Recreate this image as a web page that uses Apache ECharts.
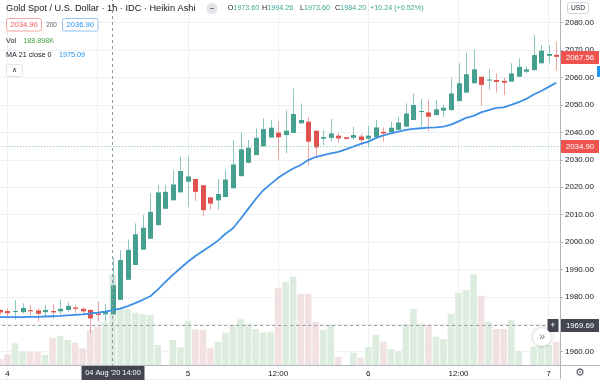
<!DOCTYPE html>
<html><head><meta charset="utf-8">
<script src="https://cdn.jsdelivr.net/npm/echarts/dist/echarts.min.js"></script>
<style>html,body{margin:0;padding:0;background:#fff}#c{width:600px;height:380px}</style>
</head><body><div id="c"></div>
<script>
const categories = [
 'Aug 3 23:00',
 'Aug 4 00:00','Aug 4 01:00','Aug 4 02:00','Aug 4 03:00','Aug 4 04:00','Aug 4 05:00','Aug 4 06:00','Aug 4 07:00',
 'Aug 4 08:00','Aug 4 09:00','Aug 4 10:00','Aug 4 11:00','Aug 4 12:00','Aug 4 13:00','Aug 4 14:00','Aug 4 15:00',
 'Aug 4 16:00','Aug 4 17:00','Aug 4 18:00','Aug 4 19:00','Aug 4 20:00','Aug 4 21:00','Aug 4 22:00','Aug 4 23:00',
 'Aug 5 00:00','Aug 5 01:00','Aug 5 02:00','Aug 5 03:00','Aug 5 04:00','Aug 5 05:00','Aug 5 06:00','Aug 5 07:00',
 'Aug 5 08:00','Aug 5 09:00','Aug 5 10:00','Aug 5 11:00','Aug 5 12:00','Aug 5 13:00','Aug 5 14:00','Aug 5 15:00',
 'Aug 5 16:00','Aug 5 17:00','Aug 5 18:00','Aug 5 19:00','Aug 5 20:00','Aug 5 21:00','Aug 5 22:00','Aug 5 23:00',
 'Aug 6 00:00','Aug 6 01:00','Aug 6 02:00','Aug 6 03:00','Aug 6 04:00','Aug 6 05:00','Aug 6 06:00','Aug 6 07:00',
 'Aug 6 08:00','Aug 6 09:00','Aug 6 10:00','Aug 6 11:00','Aug 6 12:00','Aug 6 13:00','Aug 6 14:00','Aug 6 15:00',
 'Aug 6 16:00','Aug 6 17:00','Aug 6 18:00','Aug 6 19:00','Aug 6 20:00','Aug 6 21:00','Aug 6 22:00','Aug 6 23:00',
 'Aug 7 00:00','Aug 7 01:00'
];
const openP = [1975.2,1974.8,1974.6,1974.4,1975.1,1975.0,1974.4,1974.8,1974.7,1975.2,1976.1,1975.6,1975.2,1973.9,1973.6,
 1973.6,1978.9,1986.2,1991.6,1997.2,2001.2,2006.1,2012.1,2015.2,2018.1,2022.0,2023.0,2020.7,2016.3,2015.2,2016.4,2019.6,
 2024.0,2028.9,2031.7,2034.9,2038.1,2039.9,2039.0,2039.8,2043.3,2043.9,2040.6,2037.7,2038.0,2038.8,2038.2,2038.0,2038.5,
 2037.7,2038.3,2040.2,2040.0,2040.9,2042.1,2044.5,2047.4,2047.3,2046.3,2047.9,2048.1,2051.4,2054.5,2057.9,2060.3,2058.9,
 2059.1,2058.8,2058.5,2060.3,2062.1,2062.7,2065.2,2067.9,2068.3];
const closeP = [1974.3,1974.0,1974.8,1975.9,1974.7,1973.8,1975.2,1974.3,1975.6,1976.7,1975.6,1974.7,1972.1,1973.4,1974.5,
 1984.2,1993.4,1997.1,2002.8,2005.2,2011.0,2018.1,2018.3,2021.0,2025.9,2023.9,2018.3,2011.6,2014.0,2017.5,2022.8,2028.3,
 2033.8,2034.4,2038.0,2041.2,2041.7,2038.2,2040.6,2046.7,2044.5,2036.6,2034.5,2038.3,2039.6,2037.8,2037.6,2039.0,2037.2,
 2038.8,2041.8,2039.6,2041.7,2043.6,2046.9,2050.0,2047.8,2045.7,2048.4,2049.0,2054.2,2057.9,2061.2,2063.0,2057.3,2059.3,
 2058.4,2058.1,2061.5,2063.9,2063.0,2068.2,2069.8,2068.6,2067.56];
const lowP = [1973.5,1972.7,1971.7,1973.9,1973.3,1970.9,1973.0,1972.1,1973.7,1974.3,1973.9,1973.6,1966.6,1970.9,1970.9,
 1973.6,1978.9,1986.2,1991.6,1997.2,2001.2,2006.1,2012.1,2015.2,2018.1,2012.9,2014.9,2009.5,2011.6,2011.6,2016.4,2019.6,
 2024.0,2028.7,2031.7,2034.9,2038.1,2030.1,2032.3,2039.8,2043.3,2028.2,2030.5,2035.4,2036.6,2036.2,2037.4,2037.2,2035.4,
 2034.5,2038.3,2036.6,2040.0,2040.9,2042.1,2044.5,2042.1,2040.5,2046.3,2045.7,2048.1,2051.4,2054.5,2057.9,2049.6,2055.5,
 2054.5,2053.6,2058.5,2060.3,2061.5,2062.7,2065.2,2065.2,2062.5];
const highP = [1975.4,1975.7,1978.8,1977.6,1977.0,1975.9,1977.0,1977.3,1979.0,1978.1,1976.9,1976.4,1975.5,1978.2,1977.3,
 1994.26,1997.1,2000.9,2006.8,2009.8,2017.7,2020.8,2020.8,2026.2,2031.1,2031.2,2023.0,2020.7,2016.3,2023.0,2026.2,2037.2,
 2040.0,2037.2,2041.4,2045.1,2044.5,2043.9,2048.1,2056.0,2050.6,2045.5,2040.6,2040.8,2044.9,2039.9,2038.4,2042.1,2039.4,
 2042.3,2044.5,2041.8,2043.9,2045.7,2050.6,2054.2,2052.2,2052.0,2051.8,2050.0,2059.7,2065.2,2069.1,2070.3,2060.3,2063.0,
 2061.5,2060.0,2065.2,2067.0,2064.0,2075.5,2071.9,2071.9,2073.1];
const volumeK = [12.6,22.5,45.6,27.9,27.9,26.7,21,57.3,60.9,52.5,46.8,35.1,73.5,80.4,89.7,188.9,119.1,117.0,109.8,106.5,
 105,42,0,52.5,37.2,93,75,74.1,36.3,48.9,67.8,84,96,86.7,75.6,68.7,69.9,162.3,174.9,185.4,149.1,149.1,90.9,74.1,84,17.4,
 0,25.8,15.3,37.8,63,48.9,33.6,27.9,86.7,117.6,86.7,84,59.4,54.6,107.1,151.8,157.5,190.5,145.5,90.9,75.6,75.6,94.5,29.4,
 0,38.4,42,42,48.9];
const volumeUp = [0,0,1,1,0,0,1,0,1,1,0,0,0,0,1,1,1,1,1,1,1,1,1,1,1,1,0,0,0,1,1,1,1,1,1,1,1,0,1,1,0,0,0,1,1,0,1,1,0,1,1,
 0,1,1,1,1,1,0,1,1,1,1,1,1,0,1,0,0,1,1,1,1,1,1,0];
const ma21 = [1972.6,1972.6,1972.6,1972.6,1972.7,1972.7,1972.8,1972.9,1973.0,1973.2,1973.4,1973.6,1973.9,1974.2,1974.6,
 1975.1,1975.7,1976.6,1977.7,1978.9,1980.2,1982.6,1985.4,1988.0,1990.4,1992.8,1994.9,1996.7,1998.5,2000.5,2003.0,2005.0,
 2008.4,2012.0,2015.6,2018.8,2021.1,2023.4,2025.2,2026.8,2028.1,2029.9,2031.0,2031.7,2032.3,2032.9,2033.8,2034.8,2035.8,
 2036.6,2037.9,2038.9,2039.6,2040.3,2040.9,2041.3,2041.5,2041.7,2041.8,2042.1,2042.8,2044.0,2045.3,2046.0,2047.3,2048.1,
 2048.9,2049.1,2050.0,2051.0,2052.2,2053.8,2055.1,2056.6,2058.1];
const lastPrice = 2067.56, bidPrice = 2034.90, askPrice = 2036.90, crossPrice = 1969.69;
const crossTime = 'Aug 4 14:00', crossTimeLabel = "04 Aug '20 14:00";
const legendOHLC = ['1973.60','1994.26','1973.60','1984.20'], legendChange = '+10.24 (+0.52%)';
const legendVol = '188.898K', legendMA = '1975.09';

const FONT = '"Liberation Sans", Arial, sans-serif';
const UP = '#45a08f', DOWN = '#e0524d', UPW = '#8fc8be', DOWNW = '#eea29f';
const GRIDC = '#eef0f4', AXC = '#b2b5be', TXT = '#131722';
const isMark = v => /( 00:00| 12:00)$/.test(v);

const chart = echarts.init(document.getElementById('c'), null, {renderer: 'canvas'});
const candleData = categories.map((c, k) => [k, openP[k], closeP[k], lowP[k], highP[k]]);

function renderCandle(params, api) {
  const k = api.value(0), o = api.value(1), c = api.value(2), l = api.value(3), h = api.value(4);
  const pO = api.coord([k, o]), pC = api.coord([k, c]), pL = api.coord([k, l]), pH = api.coord([k, h]);
  const up = c >= o;
  const band = api.size([1, 0])[0];
  const bw = Math.max(1, Math.round(band * 0.72));
  const cx = Math.round(pO[0]);
  const top = Math.min(pO[1], pC[1]), bot = Math.max(pO[1], pC[1]);
  return {type: 'group', children: [
    {type: 'line', shape: {x1: cx + 0.5, y1: pH[1], x2: cx + 0.5, y2: pL[1]},
     style: {stroke: up ? UPW : DOWNW, lineWidth: 1}},
    {type: 'rect', shape: {x: cx - Math.floor(bw / 2), y: top, width: bw, height: Math.max(1, bot - top)},
     style: {fill: up ? UP : DOWN}}
  ]};
}

const option = {
  animation: false,
  grid: [
    {left: -3.8, right: 40, top: -4.66, bottom: 1, containLabel: false, outerBoundsMode: 'none'},
    {left: -3.8, right: 40, top: 265, bottom: 15, containLabel: false, outerBoundsMode: 'none'}
  ],
  xAxis: [
    {type: 'category', gridIndex: 0, data: categories, axisLine: {show: false}, axisTick: {show: false},
     axisLabel: {show: false},
     splitLine: {show: true, interval: (i, v) => isMark(v), alignWithLabel: true, lineStyle: {color: GRIDC, width: 1}}},
    {type: 'category', gridIndex: 1, data: categories,
     axisLine: {lineStyle: {color: AXC}},
     axisTick: {alignWithLabel: true, interval: (i, v) => isMark(v), length: 3, lineStyle: {color: AXC}},
     axisLabel: {interval: (i, v) => isMark(v), formatter: v => v.endsWith('12:00') ? '12:00' : v.split(' ')[1],
       color: TXT, fontSize: 8, margin: 5, fontFamily: FONT},
     splitLine: {show: false}}
  ],
  yAxis: [
    {type: 'value', gridIndex: 0, position: 'right', min: 1950, max: 2090, interval: 10,
     axisLine: {show: true, lineStyle: {color: AXC}},
     axisTick: {show: true, length: 3, lineStyle: {color: AXC}},
     axisLabel: {formatter: v => v.toFixed(2), showMinLabel: false, showMaxLabel: false,
       color: TXT, fontSize: 8, margin: 5, fontFamily: FONT},
     splitLine: {show: true, lineStyle: {color: GRIDC, width: 1}}},
    {type: 'value', gridIndex: 1, min: 0, max: 210, show: false}
  ],
  series: [
    {type: 'bar', xAxisIndex: 1, yAxisIndex: 1, z: 1, barWidth: '88%',
     data: volumeK.map((v, k) => ({value: v, itemStyle: {color: volumeUp[k] ? '#dcecde' : '#f2e1e2'}}))},
    {type: 'custom', xAxisIndex: 0, yAxisIndex: 0, z: 3, renderItem: renderCandle, clip: true,
     encode: {x: 0, y: [1, 2, 3, 4]}, data: candleData,
     markLine: {silent: true, symbol: ['none', 'none'], label: {show: false}, animation: false,
       data: [
         {yAxis: bidPrice, lineStyle: {color: '#7dbab0', type: [1, 2], width: 1}},
         {yAxis: crossPrice, lineStyle: {color: '#9598a1', type: [3, 3], width: 1}},
         {xAxis: crossTime, lineStyle: {color: '#9598a1', type: [3, 3], width: 1}}
       ]}},
    {type: 'line', xAxisIndex: 0, yAxisIndex: 0, z: 4, data: ma21, symbol: 'none', smooth: false,
     lineStyle: {color: '#3d8fe8', width: 1.8}}
  ]
};
chart.setOption(option);

const yLast = chart.convertToPixel({yAxisIndex: 0}, lastPrice);
const yBid = chart.convertToPixel({yAxisIndex: 0}, bidPrice);
const yCross = chart.convertToPixel({yAxisIndex: 0}, crossPrice);
const xCross = chart.convertToPixel({xAxisIndex: 1}, crossTime);

function txt(x, y, text, size, fill, align, extra) {
  return Object.assign({type: 'text', z: 100, style: {x: x, y: y, text: text, font: size + 'px ' + FONT, fill: fill,
    align: align || 'left', textAlign: align || 'left', verticalAlign: 'middle', textVerticalAlign: 'middle'}}, extra || {});
}
function box(x, y, w, h, fill, stroke, r) {
  return {type: 'rect', z: 99, shape: {x: x, y: y, width: w, height: h, r: r || 0},
    style: {fill: fill, stroke: stroke || null, lineWidth: 1}};
}
function priceTag(y, label, fill) {
  return [box(561, Math.round(y) - 6, 38, 13, fill), txt(580, Math.round(y) + 0.5, label, 7.8, '#fff', 'center')];
}
const valC = '#3aa694';
const F2 = 7.2;
const elements = [].concat(
  [txt(6, 8.5, 'Gold Spot / U.S. Dollar · 1h · IDC · Heikin Ashi', 9.2, TXT)],
  [{type: 'circle', z: 99, shape: {cx: 212, cy: 8.5, r: 5.5}, style: {fill: '#e3e4e8'}},
   txt(212, 8.5, '−', 8, TXT, 'center')],
  ['O', 'H', 'L', 'C'].map((p, k) => ({type: 'text', z: 100, style: {x: [227.7, 262, 300, 335][k], y: 8.5,
    text: '{a|' + p + '}{b|' + legendOHLC[k] + '}', font: F2 + 'px ' + FONT, verticalAlign: 'middle', textVerticalAlign: 'middle',
    rich: {a: {fill: TXT, font: F2 + 'px ' + FONT}, b: {fill: valC, font: F2 + 'px ' + FONT}}}})),
  [txt(370, 8.5, legendChange, F2, valC)],
  [box(6.5, 18.5, 35, 12.5, '#fff', '#f3a4a2', 2), txt(24, 24.8, bidPrice.toFixed(2), 7.6, '#ef5350', 'center'),
   txt(51.5, 24.8, '200', 6.4, '#5d606b', 'center'),
   box(62.5, 18.5, 35.5, 12.5, '#fff', '#93c5f4', 2), txt(80.2, 24.8, askPrice.toFixed(2), 7.6, '#2196f3', 'center')],
  [txt(6, 41.5, 'Vol', F2, TXT), txt(23.3, 41.5, legendVol, F2, '#43a047'),
   txt(6, 55.5, 'MA 21 close 0', F2, TXT), txt(59, 55.5, legendMA, F2, '#2196f3')],
  [box(6.5, 64.5, 16, 12, '#fff', '#e0e3eb', 2), txt(14.5, 70.5, '∧', 6.5, TXT, 'center')],
  [box(567.5, 2.5, 21, 11, '#fff', '#d1d4dc', 2), txt(578, 8.3, 'USD', 6.6, TXT, 'center')],
  priceTag(yLast, lastPrice.toFixed(2), '#ef5350'),
  priceTag(yBid, bidPrice.toFixed(2), '#ef5350'),
  [box(547.5, Math.round(yCross) - 6, 11, 13, '#434651'), txt(553, Math.round(yCross) + 0.5, '+', 9, '#fff', 'center')],
  priceTag(yCross, crossPrice.toFixed(2), '#434651'),
  [box(597, 66, 3, 11, '#2196f3')],
  [box(Math.round(xCross) - 31.5, 366, 63, 14, '#434651'), txt(Math.round(xCross), 373, crossTimeLabel, 7.4, '#fff', 'center')],
  [{type: 'line', z: 98, shape: {x1: 560, y1: 365.5, x2: 600, y2: 365.5}, style: {stroke: AXC, lineWidth: 1}}],
  [{type: 'text', z: 100, style: {x: 580, y: 373, text: '⚙', font: '11px "DejaVu Sans"', fill: '#50535e',
    align: 'center', textAlign: 'center', verticalAlign: 'middle', textVerticalAlign: 'middle'}}],
  [{type: 'circle', z: 99, shape: {cx: 542, cy: 337, r: 9}, style: {fill: '#fff', shadowBlur: 4, shadowColor: 'rgba(0,0,0,0.25)'}},
   txt(542, 336.5, '»', 11, '#787b86', 'center')]
);
chart.setOption({graphic: {elements: elements}});
</script>
</body></html>
